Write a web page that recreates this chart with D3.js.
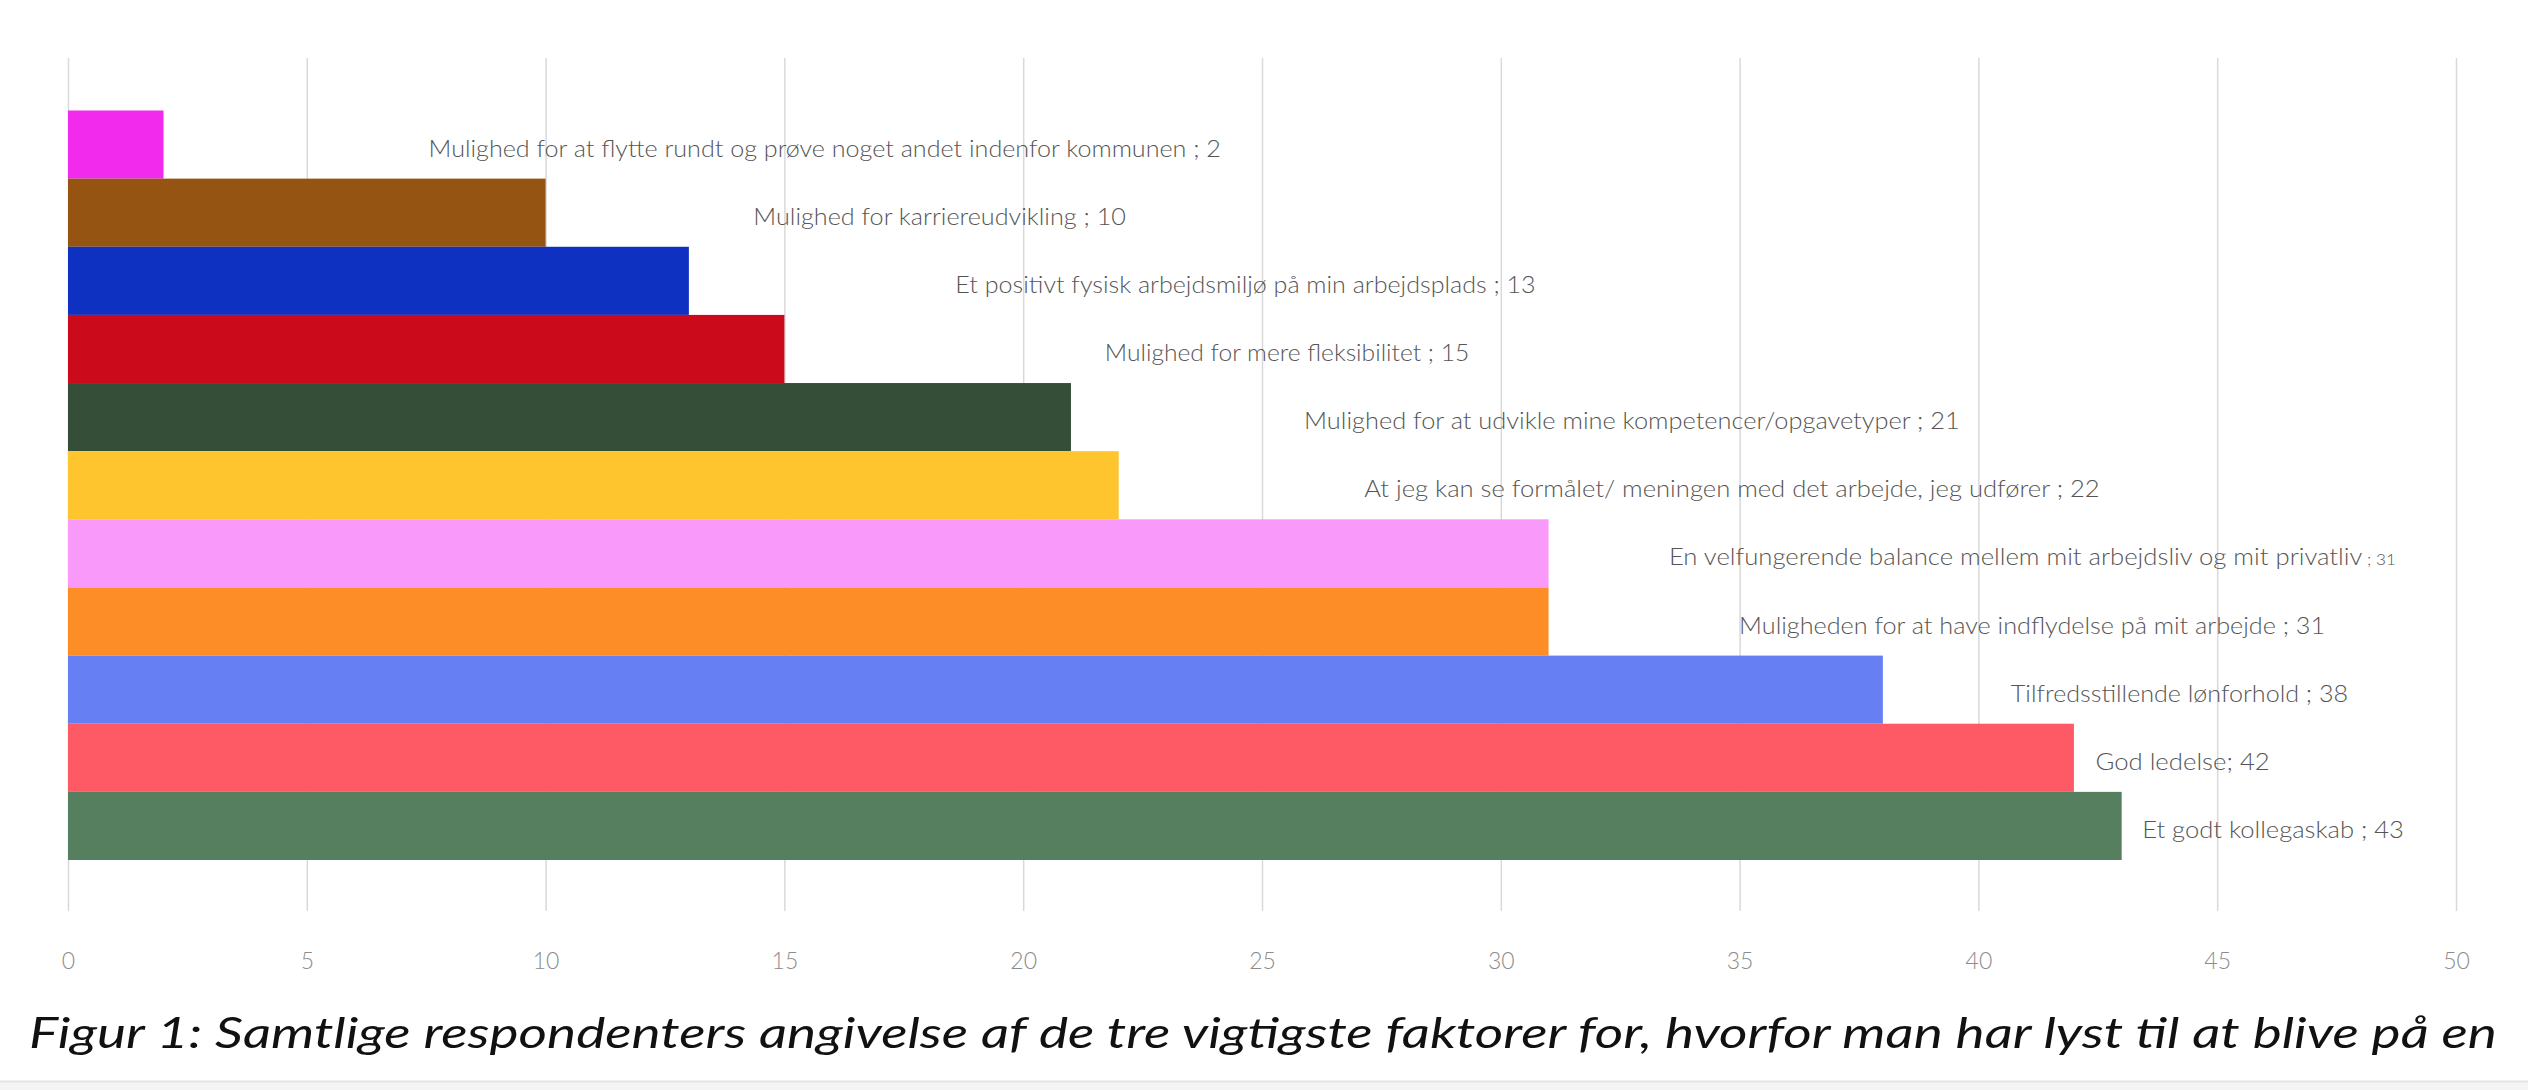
<!DOCTYPE html>
<html>
<head>
<meta charset="utf-8">
<script src="https://cdn.jsdelivr.net/npm/d3@7"></script>
<style>
  html, body { margin: 0; padding: 0; background: #ffffff; }
  svg { display: block; }
</style>
</head>
<body>
<svg id="chart" width="2528" height="1090"></svg>
<script>
// ---- data ----
const categories = [
  "Mulighed for at flytte rundt og prøve noget andet indenfor kommunen",
  "Mulighed for karriereudvikling",
  "Et positivt fysisk arbejdsmiljø på min arbejdsplads",
  "Mulighed for mere fleksibilitet",
  "Mulighed for at udvikle mine kompetencer/opgavetyper",
  "At jeg kan se formålet/ meningen med det arbejde, jeg udfører",
  "En velfungerende balance mellem mit arbejdsliv og mit privatliv",
  "Muligheden for at have indflydelse på mit arbejde",
  "Tilfredsstillende lønforhold",
  "God ledelse",
  "Et godt kollegaskab"
];
const values = [2, 10, 13, 15, 21, 22, 31, 31, 38, 42, 43];
const separators = [" ; ", " ; ", " ; ", " ; ", " ; ", " ; ", " ; ", " ; ", " ; ", "; ", " ; "];
const colors = ["#F22AEE", "#955412", "#0F31C2", "#CB0A1B", "#344E37", "#FFC52E",
                "#F99AFB", "#FD8D27", "#6680F4", "#FE5A66", "#567F5F"];
const tickValues = [0, 5, 10, 15, 20, 25, 30, 35, 40, 45, 50];
// label extents (in axis units), as placed manually in the original
const labelStart = [7.55, 14.35, 18.58, 21.71, 25.88, 27.14, 33.52, 34.99, 40.68, 42.45, 43.43];
const labelEnd   = [24.14, 22.15, 30.73, 29.34, 39.61, 42.54, 48.74, 47.26, 47.74, 46.10, 48.91];
const smallValueLabel = [false, false, false, false, false, false, true, false, false, false, false];
const caption = "Figur 1: Samtlige respondenters angivelse af de tre vigtigste faktorer for, hvorfor man har lyst til at blive på en";

// ---- layout ----
const svg = d3.select("#chart");
const W = 2528, H = 1090;
const x = d3.scaleLinear().domain([0, 50]).range([68, 2456]);
const y = d3.scaleBand().domain(categories).range([110.5, 860]).padding(0);
const gridTop = 58, gridBottom = 911;

// gridlines via axis
const gAxis = svg.append("g")
  .attr("transform", `translate(0,${gridBottom})`)
  .call(d3.axisBottom(x).tickValues(tickValues).tickSize(-(gridBottom - gridTop)).tickPadding(42).tickFormat(d3.format("d")));
gAxis.select(".domain").remove();
gAxis.selectAll(".tick line").attr("stroke", "#d9d9d9").attr("stroke-width", 1.5);
gAxis.selectAll(".tick text")
  .attr("fill", "#8c8c8c")
  .attr("font-family", "Lato, 'Open Sans', sans-serif")
  .attr("font-weight", 300)
  .attr("font-size", 23);

// bars
svg.append("g").selectAll("rect")
  .data(values)
  .join("rect")
  .attr("x", x(0))
  .attr("y", (d, i) => y(categories[i]))
  .attr("width", d => x(d) - x(0))
  .attr("height", y.bandwidth())
  .attr("fill", (d, i) => colors[i]);

// labels
const labels = svg.append("g").selectAll("text")
  .data(values)
  .join("text")
  .attr("x", (d, i) => x(labelStart[i]))
  .attr("y", (d, i) => y(categories[i]) + y.bandwidth() / 2 + 12)
  .attr("fill", "#555555")
  .attr("font-family", "Lato, 'Open Sans', sans-serif")
  .attr("font-weight", 300)
  .attr("font-size", 24)
  .attr("textLength", (d, i) => x(labelEnd[i]) - x(labelStart[i]))
  .attr("lengthAdjust", "spacingAndGlyphs");

labels.each(function(d, i) {
  const t = d3.select(this);
  if (smallValueLabel[i]) {
    t.append("tspan").text(categories[i]);
    t.append("tspan").attr("font-size", 16).text(separators[i] + d);
  } else {
    t.text(categories[i] + separators[i] + d);
  }
});

// caption
svg.append("text")
  .attr("x", 29)
  .attr("y", 1048)
  .attr("fill", "#111111")
  .attr("font-family", "Lato, 'Open Sans', sans-serif")
  .attr("font-style", "italic")
  .attr("font-weight", 400)
  .attr("font-size", 42)
  .attr("textLength", 2497 - 29)
  .attr("lengthAdjust", "spacingAndGlyphs")
  .text(caption);

// bottom strip
svg.append("rect").attr("x", 0).attr("y", 1081).attr("width", W).attr("height", H - 1081).attr("fill", "#f4f4f4");
svg.append("line").attr("x1", 0).attr("x2", W).attr("y1", 1081.5).attr("y2", 1081.5).attr("stroke", "#e3e3e3").attr("stroke-width", 2);
</script>
</body>
</html>
